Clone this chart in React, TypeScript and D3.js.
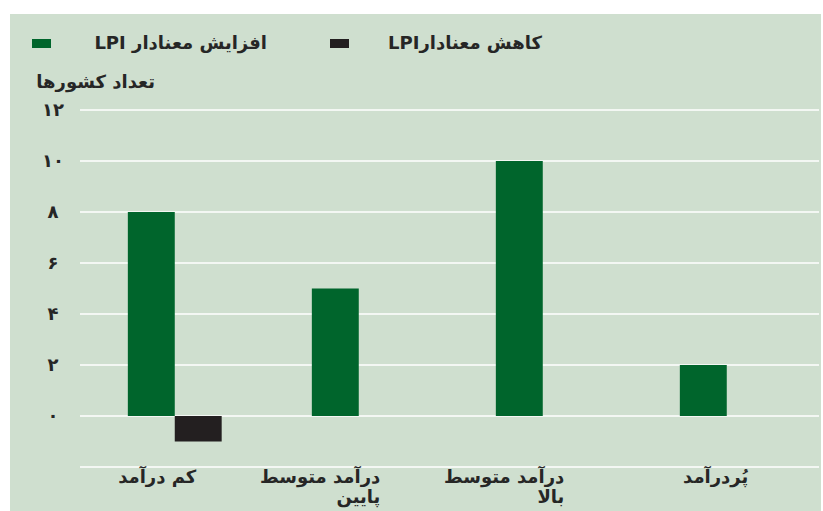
import React from "react";
import * as d3 from "d3";

const categories = ["کم درآمد", "درآمد متوسط پایین", "درآمد متوسط بالا", "پُردرآمد"];
const categoryLines = [["کم درآمد"], ["درآمد متوسط", "پایین"], ["درآمد متوسط", "بالا"], ["پُردرآمد"]];
const increaseValues = [8, 5, 10, 2];
const decreaseValues = [-1, 0, 0, 0];
const yTicks = [0, 2, 4, 6, 8, 10, 12];
const gridValues = [-2, 0, 2, 4, 6, 8, 10, 12];
const yTickLabels = ["۰", "۲", "۴", "۶", "۸", "۱۰", "۱۲"];
const seriesKeys = ["inc", "dec"];
const legendLabels = ["افزایش معنادار LPI", "کاهش معنادارLPI"];
const yTitle = "تعداد کشورها";

const W = 823;
const H = 511;
const BG = "#cfdfcf";
const GREEN = "#00652c";
const BLACK = "#231f20";
const TEXT = "#262626";
const FONT = "'DejaVu Sans', sans-serif";
const FS = 18;

export default function App() {
  const y = d3.scaleLinear().domain([-2, 12]).range([467, 110]);
  const x0 = d3.scaleBand().domain(categories).range([80, 816]).padding(0);
  const bw = x0.bandwidth();
  const x1 = d3.scaleBand().domain(seriesKeys).range([bw * 0.26, bw * 0.77]).padding(0);
  const colors = [GREEN, BLACK];
  const series = [increaseValues, decreaseValues];

  return (
    <svg width={W} height={H} style={{ position: "absolute", left: 0, top: 0, display: "block" }}>
      <rect x={0} y={0} width={W} height={H} fill="#fff" />
      <rect x={10} y={14} width={811} height={H - 14} fill={BG} />

      {/* legend */}
      <rect x={32} y={39} width={19} height={9} fill={GREEN} />
      <text x={267} y={49} direction="rtl" textAnchor="start" fontFamily={FONT} fontWeight="bold" fontSize={FS} fill={TEXT}>
        {legendLabels[0]}
      </text>
      <rect x={330} y={39} width={19} height={9} fill={BLACK} />
      <text x={542} y={49} direction="rtl" textAnchor="start" fontFamily={FONT} fontWeight="bold" fontSize={FS} fill={TEXT}>
        {legendLabels[1]}
      </text>

      {/* y title */}
      <text x={155} y={88} direction="rtl" textAnchor="start" fontFamily={FONT} fontWeight="bold" fontSize={FS} fill={TEXT}>
        {yTitle}
      </text>

      {/* grid */}
      {gridValues.map((v) => (
        <line key={v} x1={80} x2={819} y1={y(v)} y2={y(v)} stroke="#fff" strokeWidth={1.5} />
      ))}

      {/* y tick labels */}
      {yTicks.map((v, i) => (
        <text key={v} x={53} y={y(v)} dy="0.35em" textAnchor="middle" fontFamily={FONT} fontWeight="bold" fontSize={18} fill={TEXT}>
          {yTickLabels[i]}
        </text>
      ))}

      {/* bars */}
      {categories.map((c, ci) =>
        series.map((vals, si) => {
          const v = vals[ci];
          if (v === 0) return null;
          const bx = (x0(c) ?? 0) + (x1(seriesKeys[si]) ?? 0);
          return (
            <rect
              key={c + si}
              x={bx}
              y={y(Math.max(0, v))}
              width={x1.bandwidth()}
              height={Math.abs(y(v) - y(0))}
              fill={colors[si]}
            />
          );
        })
      )}

      {/* category labels */}
      {categories.map((c, ci) => {
        const gx = (x0(c) ?? 0) + (x1("inc") ?? 0) + x1.bandwidth() / 2 + 45;
        return (
          <text key={c} x={gx} y={483} direction="rtl" textAnchor="start" fontFamily={FONT} fontWeight="bold" fontSize={FS} fill={TEXT}>
            {categoryLines[ci].map((ln, li) => (
              <tspan key={li} x={gx} dy={li === 0 ? 0 : 20}>
                {ln}
              </tspan>
            ))}
          </text>
        );
      })}
    </svg>
  );
}
